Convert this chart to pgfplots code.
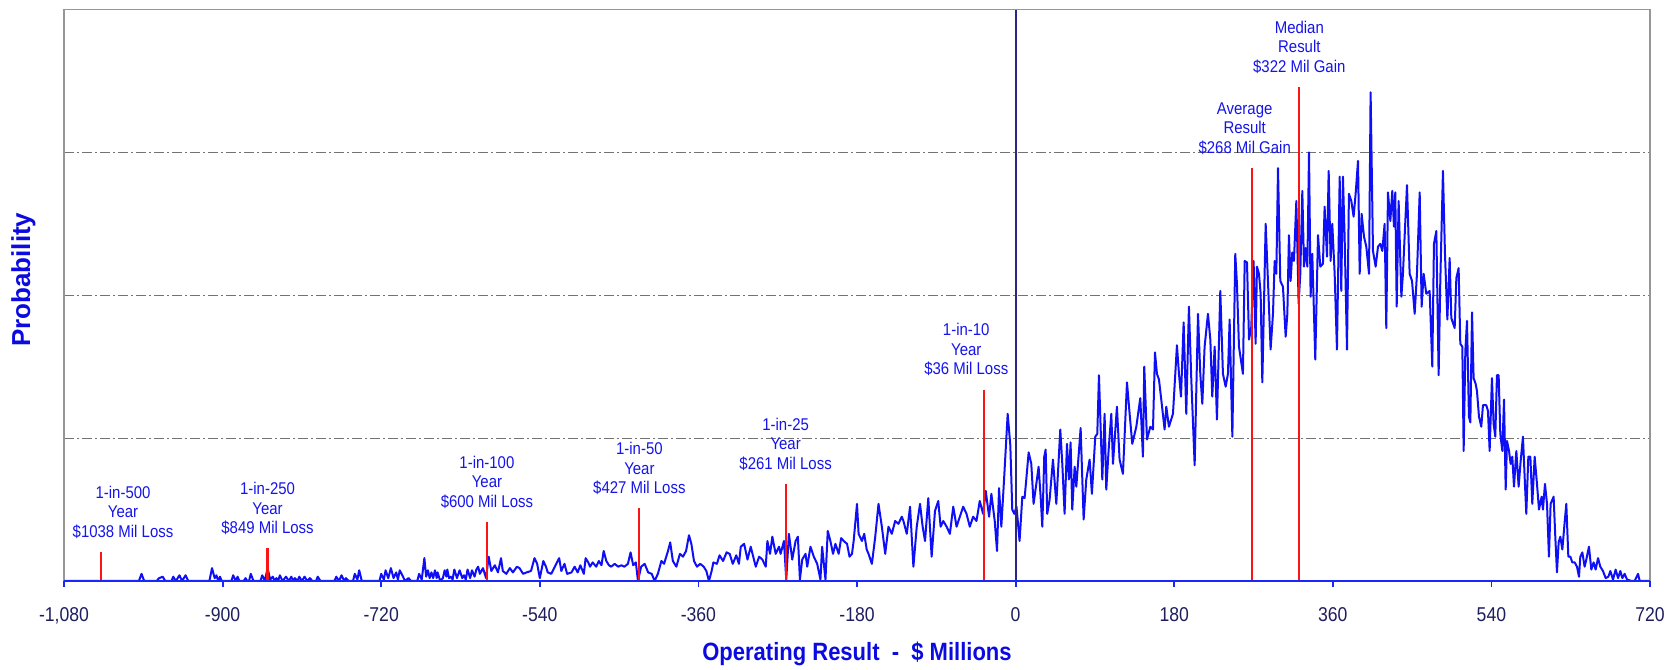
\documentclass[border=0pt]{standalone}
\usepackage{fontspec}
\setmainfont{Liberation Sans}[FakeStretch=0.88]
\newfontfamily\yfont{Liberation Sans}
\usepackage{pgfplots}
\pgfplotsset{compat=1.18}
\usetikzlibrary{calc}
\definecolor{serblue}{RGB}{15,15,245}
\definecolor{labblue}{RGB}{20,20,235}
\definecolor{axlab}{RGB}{10,10,225}
\definecolor{tickcol}{RGB}{30,30,95}
\definecolor{zeronavy}{RGB}{40,40,130}
\definecolor{framegray}{RGB}{150,150,150}
\definecolor{gridgray}{RGB}{115,115,115}
\definecolor{axblue}{RGB}{25,40,250}
\definecolor{redline}{RGB}{250,20,20}
\tikzset{lab/.style={anchor=south, align=center, inner sep=0pt, yshift=6.5bp, text=labblue, font=\fontsize{8.5bp}{9.75bp}\selectfont}}

\pgfplotstableread{
x y
-1080 0
-995 0
-992 0.05
-989 0
-975 0
-972 0.02
-968 0.03
-965 0
-958 0
-956 0.03
-953 0
-949 0.04
-946 0
-942 0.04
-939 0
-915 0
-912 0.09
-909 0.02
-907 0.04
-905 0
-903 0.03
-901 0
-890 0
-888 0.04
-885 0
-883 0.03
-881 0
-876 0
-874 0.02
-872 0
-870 0
-868 0.05
-865 0
-857 0
-855 0.04
-852 0
-849 0.09
-846 0.01
-843 0.03
-841 0
-839 0.02
-837 0
-835 0.04
-832 0
-828 0.03
-825 0
-822 0.03
-820 0
-818 0.02
-815 0
-813 0.03
-810 0
-807 0.03
-804 0
-801 0.02
-798 0
-794 0
-792 0.03
-789 0
-773 0
-771 0.03
-768 0
-765 0.04
-762 0
-760 0.02
-757 0
-752 0
-750 0.05
-747 0.01
-745 0.075
-742 0
-722 0
-720 0.05
-717 0.01
-715 0.075
-712 0.02
-709 0.09
-706 0.02
-703 0.06
-701 0.01
-699 0.075
-696 0.04
-693 0
-689 0.02
-686 0
-679 0
-677 0.05
-674 0.01
-671 0.16
-669 0.03
-667 0.075
-665 0.02
-663 0.06
-661 0.02
-659 0.075
-657 0.02
-656 0.06
-653 0
-650 0.02
-648 0.075
-646 0.03
-645 0.08
-643 0.02
-641 0.03
-639 0.01
-637 0.08
-634 0.02
-631 0.075
-628 0.02
-626 0.04
-624 0.01
-622 0.08
-619 0.02
-617 0.075
-614 0.03
-612 0.08
-610 0.10
-608 0.05
-604.5 0.09
-601 0.02
-598 0.17
-595 0.07
-591 0.11
-587.5 0.06
-584 0.16
-582 0.07
-578 0.05
-574 0.09
-570.5 0.06
-566 0.10
-563 0.09
-559 0.05
-555 0.06
-550 0.07
-546 0.16
-543 0.12
-540 0.02
-536 0.14
-533 0.10
-531 0.06
-527 0.05
-523 0.10
-518 0.16
-515.6 0.07
-512 0.12
-509 0.05
-504 0.06
-500.5 0.10
-497 0.06
-494 0.11
-490 0.05
-488 0.16
-485 0.13
-483 0.10
-480 0.13
-476 0.10
-473 0.14
-470 0.11
-467.5 0.21
-464.5 0.14
-461.5 0.11
-459 0.10
-455 0.12
-451 0.10
-447.5 0.11
-444 0.10
-440 0.12
-437 0.20
-434 0.11
-431 0.13
-428.6 0.0
-425 0.10
-421 0.12
-417 0.06
-413 0.05
-409.7 0.0
-406 0.05
-402 0.14
-399 0.12
-394.5 0.21
-392 0.27
-389 0.14
-385 0.10
-381 0.19
-377.5 0.17
-374 0.21
-370.7 0.32
-368 0.26
-365 0.14
-361.6 0.10
-358 0.12
-354 0.10
-351 0.07
-348 0.0
-345 0.07
-343 0.13
-339 0.12
-336 0.18
-332 0.14
-328 0.20
-324.5 0.19
-321 0.12
-317 0.18
-314 0.12
-311.9 0.24
-308.1 0.26
-304.3 0.15
-300.6 0.24
-294.9 0.10
-291.1 0.17
-287.4 0.15
-283.6 0.10
-281.7 0.28
-278.7 0.19
-276.1 0.31
-272.3 0.19
-268.5 0.24
-266.7 0.19
-262.9 0.28
-260.3 0.01
-257.3 0.33
-253.5 0.15
-249.7 0.28
-247.1 0.31
-244.8 0.01
-242.2 0.15
-238.4 0.19
-236.5 0.10
-232.8 0.24
-229.0 0.17
-225.2 0.12
-221.5 0.01
-219.6 0.24
-215.8 0.01
-213.2 0.35
-210.2 0.28
-207.2 0.19
-204.5 0.26
-200.8 0.19
-198 0.30
-195.1 0.28
-191.3 0.26
-188.5 0.17
-185.7 0.19
-183.8 0.28
-180.0 0.54
-178.2 0.33
-174.4 0.28
-171.8 0.33
-169 0.22
-166.9 0.19
-163.1 0.12
-159.3 0.31
-155.6 0.54
-151.8 0.38
-148.0 0.19
-144.3 0.38
-140.5 0.33
-136.7 0.42
-133.0 0.40
-129.2 0.45
-127.3 0.42
-123.5 0.33
-119.8 0.52
-116.0 0.10
-112.2 0.38
-108.5 0.54
-105.5 0.38
-102.8 0.28
-99.1 0.58
-95.3 0.17
-91.5 0.49
-87.8 0.56
-85.1 0.38
-82.1 0.42
-78.3 0.38
-74.6 0.33
-70.8 0.52
-67.0 0.38
-63.3 0.45
-59.5 0.52
-55.7 0.47
-52.0 0.38
-48.2 0.45
-44.4 0.42
-40.7 0.56
-36.9 0.47
-33.9 0.63
-30.1 0.45
-27.5 0.61
-23.7 0.42
-21.1 0.21
-18.8 0.65
-16.2 0.38
-13.2 0.70
-9 1.17
-6 0.95
-3.8 0.50
-1.5 0.47
1 0.52
4.5 0.28
7.6 0.59
10.2 0.58
12.1 0.71
14.8 0.90
17.8 0.82
20.4 0.54
23.5 0.68
26.1 0.80
28.4 0.59
30.3 0.38
32.5 0.87
34.1 0.92
35.9 0.47
38.6 0.57
42.4 0.85
46.2 0.54
50.7 1.06
53.0 0.82
55.6 0.47
58.3 0.96
60.5 0.71
62.4 0.97
64.3 0.50
67.0 0.80
68.9 0.66
73.8 1.07
77.2 0.43
80.2 0.71
84.0 0.85
86.6 0.61
90.4 1.01
92.7 1.03
94.6 1.44
98.4 0.71
101.0 1.17
102.9 0.64
105.6 0.92
108.6 1.17
110.5 0.82
115.0 1.22
118.0 0.85
121.8 0.75
126.4 1.39
129.4 1.17
132.4 0.96
137.0 1.08
141.5 1.28
144.5 0.87
146.0 1.50
149.1 0.99
152.9 1.08
155.9 1.06
158.2 1.60
160.4 1.45
162.7 1.41
165.3 1.27
169.1 1.06
171.0 1.22
174.0 1.08
178.6 1.17
183.1 1.65
185.4 1.45
187.7 1.29
190.7 1.81
193.7 1.17
196.7 1.92
199.4 1.41
203.2 0.81
207.0 1.87
209.6 1.45
211.9 1.24
214.5 1.64
218.3 1.87
221.0 1.69
223.2 1.29
225.9 1.64
228.5 1.13
232.3 2.03
235.3 1.45
238.4 1.36
241.0 1.45
242.9 1.83
246.0 1.01
249.3 2.29
251.2 2.08
253.5 1.64
258.0 1.45
260.0 2.24
262.6 2.23
264.9 1.69
267.5 1.78
270.1 2.24
272.4 1.66
273.9 2.20
276.2 2.15
278.1 2.01
280.0 1.39
283.8 2.50
286.4 2.10
289.4 1.62
292.1 1.87
294.0 2.24
295.9 2.15
297.8 2.89
300.4 2.10
303.4 2.06
306.5 1.71
308.4 1.87
310.2 2.42
312.1 2.10
314.0 2.30
315.9 2.24
318.6 2.66
321.2 1.94
323.1 2.15
325.4 2.73
327.3 2.20
329.2 2.33
331.1 2.20
333.0 3.00
334.8 1.99
336.7 2.29
340.1 1.55
343.2 2.42
345.8 2.20
348.8 2.22
350.7 2.62
353.4 2.27
355.3 2.87
357.5 2.24
359.4 2.50
362.1 2.15
364.7 1.62
367.8 2.83
369.6 2.03
371.5 2.83
373.4 2.41
376.1 1.62
378.3 2.71
381.0 2.66
383.6 2.55
385.9 2.71
388.6 2.94
390.5 2.15
392.7 2.57
395.4 2.41
398.0 2.34
401.1 2.15
402.9 3.42
405.6 2.31
408.6 2.20
411.3 2.34
413.9 2.36
416.2 2.31
418.8 2.50
420.7 1.77
422.6 2.72
425.3 2.52
427.5 2.73
429.4 2.48
430.9 2.72
432.5 1.92
434.7 2.66
437.8 1.99
439.6 2.15
441.5 2.41
444.2 2.77
447.2 2.15
449.9 2.10
452.9 1.87
455.5 2.15
458.6 2.72
460.8 1.92
463.1 2.15
466.1 2.01
469.9 2.03
472.9 1.50
474.8 2.36
477.5 2.45
480.1 1.44
482.0 2.10
485.0 2.87
487.3 2.29
490.0 1.83
492.6 2.26
494.5 1.84
498.3 1.77
500.2 2.12
502.8 2.19
504.7 1.66
507.0 1.64
508.5 0.91
510.4 1.61
512.3 1.82
514.5 1.15
516.1 1.11
518.0 1.88
519.8 1.42
522.1 1.38
523.6 1.33
525.9 1.15
528.5 1.08
530.4 1.23
534.2 1.23
536.1 1.19
538.0 0.91
540.6 1.42
542.5 1.10
544.4 1.01
546.3 1.44
548.2 1.44
550.1 1.03
552.4 0.91
554.3 1.27
556.2 0.64
557.7 0.98
560.0 0.91
561.8 0.82
563.7 0.87
565.6 0.66
568.3 0.91
570.9 0.66
573.2 0.84
575.8 1.01
577.7 0.73
579.6 0.47
581.9 0.87
584.2 0.87
586.4 0.54
589.1 0.87
591.7 0.68
594.0 0.50
597.0 0.59
598.5 0.50
600.8 0.68
603.1 0.54
605.3 0.17
607.2 0.54
610.6 0.59
612.5 0.31
614.4 0.06
616.3 0.27
618.2 0.31
620.5 0.22
623.1 0.41
625.0 0.54
627.3 0.17
629.6 0.17
631.8 0.13
634.5 0.13
637.1 0.10
639.4 0.03
640.9 0.17
643.2 0.20
645.8 0.10
647.7 0.15
650.7 0.24
653.4 0.08
656.0 0.13
658.3 0.08
661.0 0.16
663.6 0.10
666.6 0.07
669.7 0.02
672.7 0.03
675.0 0.07
678.0 0.01
681.0 0.08
683.7 0.02
686.3 0.07
688.6 0.02
691.2 0.05
693.9 0.01
698.8 0
702.6 0
706.4 0.05
708.3 0
720 0
}\dist

\begin{document}
\begin{tikzpicture}
\begin{axis}[
  scale only axis, width=793bp, height=285.75bp,
  xmin=-1080, xmax=720, ymin=0, ymax=4,
  clip=false,
  axis line style={draw=none},
  xtick={-1080,-900,-720,-540,-360,-180,0,180,360,540,720},
  xticklabels={{-1,080},-900,-720,-540,-360,-180,0,180,360,540,720},
  xtick pos=bottom, tick align=outside,
  major tick length=3bp,
  xtick style={draw=axblue, line width=0.9bp},
  ytick={1,2,3}, yticklabels={}, ytick style={draw=none},
  ymajorgrids,
  y grid style={draw=gridgray, line width=0.55bp, dash pattern=on 5bp off 1.5bp on 1bp off 1.5bp},
  /pgf/number format/assume math mode=true,
  xticklabel style={font=\fontsize{10bp}{12bp}\selectfont, text=tickcol, anchor=north, inner sep=0pt, yshift=-10bp},
  xlabel={Operating Result~~-~~\$ Millions},
  xlabel style={font=\bfseries\fontsize{12.5bp}{15bp}\selectfont, text=axlab, at={(axis description cs:0.5,-0.1277)}, anchor=center},
  ylabel={Probability},
  ylabel style={font=\yfont\bfseries\fontsize{13bp}{15bp}\selectfont, text=axlab, at={(axis description cs:-0.02554,0.527)}, anchor=center},
]
\addplot[serblue, line width=1bp, line join=round] table[x=x, y=y] {\dist};
\addplot[zeronavy, line width=1.1bp] coordinates {(0,0) (0,4)};
\addplot[redline, line width=1.1bp] coordinates {(-1038,0) (-1038,0.205)};
\addplot[redline, line width=1.1bp] coordinates {(-849,0) (-849,0.23)};
\addplot[redline, line width=1.1bp] coordinates {(-600,0) (-600,0.415)};
\addplot[redline, line width=1.1bp] coordinates {(-427,0) (-427,0.51)};
\addplot[redline, line width=1.1bp] coordinates {(-261,0) (-261,0.68)};
\addplot[redline, line width=1.1bp] coordinates {(-36,0) (-36,1.34)};
\addplot[redline, line width=1.1bp] coordinates {(268,0) (268,2.89)};
\addplot[redline, line width=1.1bp] coordinates {(322,0) (322,3.46)};
\node[lab] at (axis cs:-1013,0.205) {1-in-500\\Year\\\$1038 Mil Loss};
\node[lab] at (axis cs:-849,0.23) {1-in-250\\Year\\\$849 Mil Loss};
\node[lab] at (axis cs:-600,0.415) {1-in-100\\Year\\\$600 Mil Loss};
\node[lab] at (axis cs:-427,0.51) {1-in-50\\Year\\\$427 Mil Loss};
\node[lab] at (axis cs:-261,0.68) {1-in-25\\Year\\\$261 Mil Loss};
\node[lab] at (axis cs:-56,1.34) {1-in-10\\Year\\\$36 Mil Loss};
\node[lab] at (axis cs:260,2.89) {Average\\Result\\\$268 Mil Gain};
\node[lab] at (axis cs:322,3.46) {Median\\Result\\\$322 Mil Gain};
\draw[framegray, line width=0.8bp] (rel axis cs:0,0) -- (rel axis cs:0,1) -- (rel axis cs:1,1) -- (rel axis cs:1,0);
\draw[axblue, line width=1.1bp] (rel axis cs:0,0) -- (rel axis cs:1,0);
\coordinate (bl) at (rel axis cs:0,0);
\coordinate (tr) at (rel axis cs:1,1);
\end{axis}
\pgfresetboundingbox
\path[use as bounding box] ($(bl)+(-32bp,-44.5bp)$) rectangle ($(tr)+(12.5bp,4.75bp)$);
\end{tikzpicture}
\end{document}
